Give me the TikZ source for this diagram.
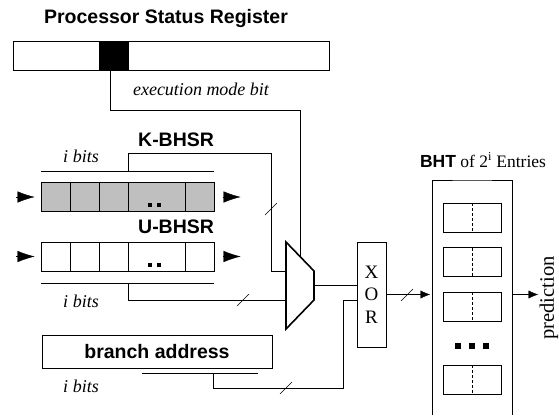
\documentclass[tikz,border=0pt]{standalone}
\usepackage{fontspec}
\setmainfont{Liberation Serif}
\setsansfont{Liberation Sans}
\usetikzlibrary{arrows.meta}
\begin{document}
\begin{tikzpicture}[x=1pt,y=-1pt]
\tikzset{ >={Latex[length=12pt,width=10pt]}, inner sep=0pt, outer sep=0pt, line width=1.4pt,
  head/.style={font=\fontsize{19.5}{22}\selectfont\sffamily\bfseries},
  ital/.style={font=\fontsize{18}{20}\selectfont\itshape},
  txt/.style={font=\fontsize{19}{22.5}\selectfont},
  box/.style={draw, rectangle, minimum height=29pt},
  shiftarr/.style={-{Latex[length=20pt,width=13pt]}},
}
\useasboundingbox (0,0) rectangle (559,415);

%\draw [lightgray, dashed](0,0) grid (559,415);

% processor status register
\node [head] (psrlbl) at (166,19) {Processor Status Register};
\node [box, minimum width=316pt] (psr) at (171,55.5) {};
\node [box, fill=black, minimum width=29pt] (mode) at (113.5,55.5) {};
\node [ital] (modelbl) at (201,89) {execution mode bit};

% K-BHSR
\node [head, anchor=east] (klbl) at (214,140) {K-BHSR};
\node [ital] (kbits) at (81,156) {i bits};
\node [box, fill=black!25, minimum width=173pt] (kreg) at (127.5,197) {};
\foreach \c in {70,99,128,185} \draw (\c,182.5) -- (\c,211.5);
\fill (148,203) rectangle +(4,4);
\fill (157,203) rectangle +(4,4);
\draw [shiftarr] ([xshift=-25pt]kreg.west) -- ([xshift=-4pt]kreg.west);
\draw [shiftarr] ([xshift=9pt]kreg.east) -- ([xshift=29pt]kreg.east);

% U-BHSR
\node [head, anchor=east] (ulbl) at (214,227) {U-BHSR};
\node [box, fill=white, minimum width=173pt] (ureg) at (127.5,256.5) {};
\foreach \c in {70,99,128,185} \draw (\c,242) -- (\c,271);
\fill (148,263) rectangle +(4,4);
\fill (157,263) rectangle +(4,4);
\draw [shiftarr] ([xshift=-25pt]ureg.west) -- ([xshift=-4pt]ureg.west);
\draw [shiftarr] ([xshift=9pt]ureg.east) -- ([xshift=29pt]ureg.east);
\node [ital] (ubits) at (81,301) {i bits};

% branch address
\node [box, head, minimum width=230pt, minimum height=33pt] (addr) at (157,351.5) {branch address};
\node [ital] (abits) at (81,386) {i bits};

% bars over/under the registers
\coordinate (kbarl) at (41,171);  \coordinate (kbarr) at (214,171);
\coordinate (ubarl) at (41,283);  \coordinate (ubarr) at (214,283);
\coordinate (abarl) at (142,373); \coordinate (abarr) at (258,373);
\draw (kbarl) -- (kbarr);
\draw (ubarl) -- (ubarr);
\draw (abarl) -- (abarr);

% mux
\coordinate (muxa) at (286,271);
\coordinate (muxb) at (286,300);
\coordinate (muxout) at (314,285.5);
\coordinate (sel) at (300,256.5);
\draw [line width=1.6pt] (286,242) -- (314,271) -- (314,300) -- (286,329) -- cycle;

% xor
\node [box, txt, align=center, minimum width=29pt, minimum height=105pt] (xor) at (371.5,294.5) {X\\O\\R};
\coordinate (xin) at (357,300);

% BHT
\node [minimum width=80pt, minimum height=235pt] (bht) at (472,297.5) {};
\draw (bht.south west) |- (bht.north) -| (bht.south east);
\node [txt, font=\fontsize{17.5}{20}\selectfont] (bhtlbl) at (483,160) {\textsf{\bfseries BHT} of 2\textsuperscript{i} Entries};
\foreach \y [count=\i] in {217.5,262,306.5,379.5} {
  \node [box, minimum width=58pt] (e\i) at (472,\y) {};
  \draw [dash pattern=on 3pt off 2pt, line width=1pt] (e\i.north) -- (e\i.south);
}
\foreach \x in {455,469,483} \fill (\x,343) rectangle +(6,6);

% wires
\coordinate (modeout) at (110,70);
\coordinate (ktap) at (128,171);
\coordinate (utap) at (128,283);
\coordinate (atap) at (213,373);
\draw (modeout) |- (300,110) -- (sel);
\draw (ktap) |- (271,153) |- (muxa);
\draw (utap) |- (muxb);
\draw (atap) |- (343,388) |- (xin);
\draw (muxout) -- (muxout -| xor.west);
\draw [->] (xor.east) -- (xor.east -| bht.west);
\coordinate (predend) at (540,294.5);
\draw [->] (xor.east -| bht.east) -- (predend);
\node [txt, rotate=90, font=\fontsize{20.5}{22}\selectfont] (pred) at (549,298) {prediction};

% bus width slashes
\draw (265,215) -- (277,203);
\draw (237,306) -- (249,294);
\draw (280,394) -- (292,382);
\draw (401,301) -- (413,289);

\end{tikzpicture}
\end{document}
